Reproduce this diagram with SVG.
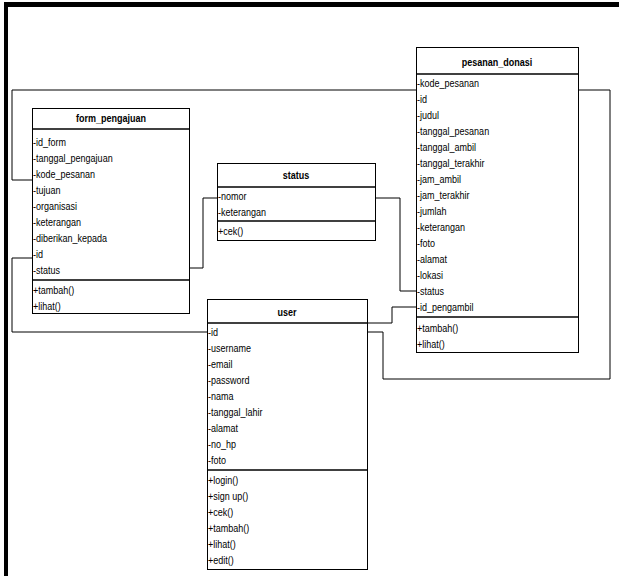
<svg xmlns="http://www.w3.org/2000/svg" width="619" height="576" viewBox="0 0 619 576">
<style>
.box{fill:#fff;stroke:#000;stroke-width:1}
.div{stroke:#000;stroke-width:1.5}
.t{font-family:"Liberation Sans Narrow","Arial Narrow","Liberation Sans",sans-serif;font-size:11px;fill:#000}
.h{font-family:"Liberation Sans Narrow","Arial Narrow","Liberation Sans",sans-serif;font-size:11px;font-weight:bold;fill:#000;text-anchor:middle}
.c{fill:none;stroke:#000;stroke-width:1}
</style>
<rect x="0" y="0" width="619" height="576" fill="#fff"/>
<rect x="4" y="2" width="615" height="5" fill="#000"/>
<rect x="4" y="2" width="4" height="574" fill="#000"/>
<g id="connectors">
<polyline class="c" points="32,180 12,180 12,90 416,90"/>
<polyline class="c" points="32,258 12,258 12,332 207,332"/>
<polyline class="c" points="189,268 203,268 203,198 217,198"/>
<polyline class="c" points="375,198 400,198 400,291 416,291"/>
<polyline class="c" points="367,323 392,323 392,307 416,307"/>
<polyline class="c" points="367,332 383,332 383,379 610,379 610,90 578,90"/>
</g>
<g id="form_pengajuan">
<rect class="box" x="32.5" y="108.5" width="157" height="205"/>
<line class="div" x1="32" y1="129" x2="190" y2="129"/>
<line class="div" x1="32" y1="280" x2="190" y2="280"/>
<g transform="translate(111,0) scale(0.82,1)"><text class="h" x="0" y="122">form_pengajuan</text></g>
<g transform="translate(33,0) scale(0.82,1)">
<text class="t" x="0" y="146">-id_form</text>
<text class="t" x="0" y="162">-tanggal_pengajuan</text>
<text class="t" x="0" y="178">-kode_pesanan</text>
<text class="t" x="0" y="194">-tujuan</text>
<text class="t" x="0" y="210">-organisasi</text>
<text class="t" x="0" y="226">-keterangan</text>
<text class="t" x="0" y="242">-diberikan_kepada</text>
<text class="t" x="0" y="258">-id</text>
<text class="t" x="0" y="274">-status</text>
<text class="t" x="0" y="294">+tambah()</text>
<text class="t" x="0" y="310">+lihat()</text>
</g>
</g>
<g id="status">
<rect class="box" x="217.5" y="163.5" width="158" height="77"/>
<line class="div" x1="217" y1="187" x2="376" y2="187"/>
<line class="div" x1="217" y1="221" x2="376" y2="221"/>
<g transform="translate(296,0) scale(0.82,1)"><text class="h" x="0" y="179">status</text></g>
<g transform="translate(218,0) scale(0.82,1)">
<text class="t" x="0" y="200">-nomor</text>
<text class="t" x="0" y="216">-keterangan</text>
<text class="t" x="0" y="235">+cek()</text>
</g>
</g>
<g id="pesanan_donasi">
<rect class="box" x="416.5" y="47.5" width="162" height="305"/>
<line class="div" x1="416" y1="74" x2="579" y2="74"/>
<line class="div" x1="416" y1="317" x2="579" y2="317"/>
<g transform="translate(497,0) scale(0.82,1)"><text class="h" x="0" y="66">pesanan_donasi</text></g>
<g transform="translate(417,0) scale(0.82,1)">
<text class="t" x="0" y="87">-kode_pesanan</text>
<text class="t" x="0" y="103">-id</text>
<text class="t" x="0" y="119">-judul</text>
<text class="t" x="0" y="135">-tanggal_pesanan</text>
<text class="t" x="0" y="151">-tanggal_ambil</text>
<text class="t" x="0" y="167">-tanggal_terakhir</text>
<text class="t" x="0" y="183">-jam_ambil</text>
<text class="t" x="0" y="199">-jam_terakhir</text>
<text class="t" x="0" y="215">-jumlah</text>
<text class="t" x="0" y="231">-keterangan</text>
<text class="t" x="0" y="247">-foto</text>
<text class="t" x="0" y="263">-alamat</text>
<text class="t" x="0" y="279">-lokasi</text>
<text class="t" x="0" y="295">-status</text>
<text class="t" x="0" y="311">-id_pengambil</text>
<text class="t" x="0" y="332">+tambah()</text>
<text class="t" x="0" y="348">+lihat()</text>
</g>
</g>
<g id="user">
<rect class="box" x="207.5" y="299.5" width="160" height="270"/>
<line class="div" x1="207" y1="323" x2="368" y2="323"/>
<line class="div" x1="207" y1="470" x2="368" y2="470"/>
<g transform="translate(287,0) scale(0.82,1)"><text class="h" x="0" y="316">user</text></g>
<g transform="translate(208,0) scale(0.82,1)">
<text class="t" x="0" y="336">-id</text>
<text class="t" x="0" y="352">-username</text>
<text class="t" x="0" y="368">-email</text>
<text class="t" x="0" y="384">-password</text>
<text class="t" x="0" y="400">-nama</text>
<text class="t" x="0" y="416">-tanggal_lahir</text>
<text class="t" x="0" y="432">-alamat</text>
<text class="t" x="0" y="448">-no_hp</text>
<text class="t" x="0" y="464">-foto</text>
<text class="t" x="0" y="484">+login()</text>
<text class="t" x="0" y="500">+sign up()</text>
<text class="t" x="0" y="516">+cek()</text>
<text class="t" x="0" y="532">+tambah()</text>
<text class="t" x="0" y="548">+lihat()</text>
<text class="t" x="0" y="564">+edit()</text>
</g>
</g>
</svg>
